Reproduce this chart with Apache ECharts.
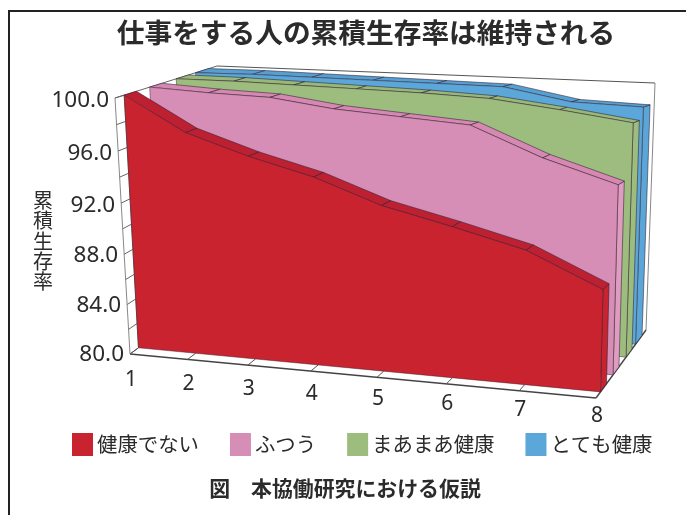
<!DOCTYPE html>
<html>
<head>
<meta charset="utf-8">
<style>html,body{margin:0;padding:0;background:#fff}#chart{width:686px;height:515px}</style>
<script src="https://cdn.jsdelivr.net/npm/echarts@6/dist/echarts.min.js"></script>
</head>
<body>
<div id="chart"></div>
<script>
// Cumulative survival rate by self-rated health, years 1-8
const years = ['1', '2', '3', '4', '5', '6', '7', '8'];
const yTicks = [80, 84, 88, 92, 96, 100];
const notHealthy = [100, 97.2, 95.5, 94.1, 92.2, 90.9, 89.5, 87.1];
const average = [100, 99.6, 99.3, 98.5, 98.0, 97.5, 95.3, 93.6];
const fairlyHealthy = [100, 99.9, 99.7, 99.5, 99.3, 99.0, 98.3, 97.5];
const veryHealthy = [100, 100, 99.9, 99.8, 99.7, 99.6, 98.6, 98.4];

const FONT = '"Noto Sans CJK JP", "Noto Sans", sans-serif';
const INK = '#2b2b2b';
const EDGE = 'rgba(45,30,50,0.8)';

// Box corners of the 3D view: the near wall and the far wall, each [LB, RB, RT, LT]
const NEAR = [[130, 354], [596, 398], [603, 95], [115, 98]];
const FAR = [[224, 285], [646, 330], [655, 83], [217, 66]];

function homography(q) {
  const [[x0, y0], [x1, y1], [x2, y2], [x3, y3]] = q;
  const sx = x0 - x1 + x2 - x3, sy = y0 - y1 + y2 - y3;
  const dx1 = x1 - x2, dx2 = x3 - x2, dy1 = y1 - y2, dy2 = y3 - y2;
  const den = dx1 * dy2 - dx2 * dy1;
  const g = (sx * dy2 - dx2 * sy) / den, h = (dx1 * sy - sx * dy1) / den;
  const a = x1 - x0 + g * x1, b = x3 - x0 + h * x3;
  const d = y1 - y0 + g * y1, e = y3 - y0 + h * y3;
  return (u, v) => {
    const w = g * u + h * v + 1;
    return [(a * u + b * v + x0) / w, (d * u + e * v + y0) / w];
  };
}
const nearWall = homography(NEAR);
const farWall = homography(FAR);

// Hidden grid spans the whole canvas, so its pixel coordinates normalise to 0..1
const W = 686, H = 515;
function project(api, xIndex, value, depth) {
  const c = api.coord([xIndex, value]);
  const u = c[0] / W, v = 1 - c[1] / H;
  const a = nearWall(u, v), b = farWall(u, v);
  return [a[0] + (b[0] - a[0]) * depth, a[1] + (b[1] - a[1]) * depth];
}

function polygon(points, fill, stroke, width) {
  return {
    type: 'polygon',
    shape: { points },
    style: { fill, stroke: stroke || fill, lineWidth: width || 0.7 }
  };
}

// One slab: end cap, top ribbon, then the front face
function slab(values, front, back, colors) {
  return function (params, api) {
    if (params.dataIndex !== 0) return null;
    const last = values.length - 1;
    const children = [];
    children.push(polygon([
      project(api, last, 80, front), project(api, last, 80, back),
      project(api, last, values[last], back), project(api, last, values[last], front)
    ], colors.cap, EDGE));
    for (let i = 0; i < last; i++) {
      children.push(polygon([
        project(api, i, values[i], front), project(api, i, values[i], back),
        project(api, i + 1, values[i + 1], back), project(api, i + 1, values[i + 1], front)
      ], colors.top, EDGE));
    }
    const face = [project(api, 0, 80, front)];
    values.forEach((v, i) => face.push(project(api, i, v, front)));
    face.push(project(api, last, 80, front));
    children.push(polygon(face, colors.face, 'rgba(60,30,45,0.6)', 0.8));
    return { type: 'group', children };
  };
}

function slabSeries(name, values, front, back, colors, z) {
  return {
    name,
    type: 'custom',
    coordinateSystem: 'cartesian2d',
    data: values.map((v, i) => [i, v]),
    encode: { x: 0, y: 1 },
    itemStyle: { color: colors.face },
    silent: true,
    clip: false,
    z,
    renderItem: slab(values, front, back, colors)
  };
}

// Box frame, ticks and tick labels, all placed through the same projection
function frame(params, api) {
  if (params.dataIndex !== 0) return null;
  const line = (a, b, w, col) => ({
    type: 'line',
    shape: { x1: a[0], y1: a[1], x2: b[0], y2: b[1] },
    style: { stroke: col || '#555', lineWidth: w || 1 }
  });
  const last = years.length - 1;
  const kids = [
    line(project(api, 0, 80, 0), project(api, 0, 100, 0), 1, '#888'),
    line(project(api, 0, 100, 0), project(api, 0, 100, 1), 1, '#666'),
    line(project(api, 0, 100, 1), project(api, last, 100, 1), 1.2, '#555'),
    line(project(api, last, 100, 1), project(api, last, 80, 1), 1, '#888'),
    line(project(api, last, 80, 1), project(api, last, 80, 0), 1.4, '#444'),
    line(project(api, 0, 80, 0), project(api, last, 80, 0), 1.4, '#444'),
    line(project(api, 0, 80, 0.09), project(api, 0, 100, 0.09), 1, '#777')
  ];
  for (let v = 80; v <= 100; v += 2) {
    kids.push(line(project(api, 0, v, 0), project(api, 0, v, 0.09), 1, '#666'));
  }
  years.forEach((label, i) => {
    const p = project(api, i, 80, 0);
    const q = project(api, i, 80, 0.09);
    kids.push(line(p, q, 1, '#555'));
    kids.push({
      type: 'text',
      style: {
        text: label, x: p[0] + 1, y: p[1] + 26 - 8 * i / last,
        font: '21px "Noto Sans", sans-serif', fill: INK,
        textAlign: 'center', textVerticalAlign: 'middle'
      }
    });
  });
  yTicks.forEach((t) => {
    const p = project(api, 0, t, 0);
    kids.push({
      type: 'text',
      style: {
        text: t.toFixed(1), x: p[0] - 6, y: p[1] + 1 + (t - 80) / 10,
        font: '22.5px "Noto Sans", sans-serif', fill: INK,
        textAlign: 'right', textVerticalAlign: 'middle'
      }
    });
  });
  return { type: 'group', children: kids };
}

const option = {
  animation: false,
  backgroundColor: '#fff',
  title: [
    {
      text: '仕事をする人の累積生存率は維持される',
      left: 361, top: 14, textAlign: 'center',
      textStyle: { fontFamily: FONT, fontSize: 27.7, fontWeight: 'bold', color: INK }
    },
    {
      text: '図　本協働研究における仮説',
      left: 340, top: 473, textAlign: 'center',
      textStyle: { fontFamily: FONT, fontSize: 20.9, fontWeight: 'bold', color: INK }
    }
  ],
  legend: {
    left: 72, top: 433, padding: 0,
    itemWidth: 21, itemHeight: 23, itemGap: 31,
    icon: 'rect',
    selectedMode: false,
    data: ['健康でない', 'ふつう', 'まあまあ健康', 'とても健康'],
    textStyle: { fontFamily: FONT, fontSize: 20.4, color: INK, padding: [0, 0, 0, -1] }
  },
  grid: { left: 0, top: 0, width: W, height: H, show: false },
  xAxis: { type: 'category', data: years, boundaryGap: false, show: false },
  yAxis: { type: 'value', min: 80, max: 100, interval: 4, show: false },
  graphic: [
    { type: 'rect', shape: { x: 8, y: 10, width: 2, height: 505 }, style: { fill: '#222' }, silent: true },
    { type: 'rect', shape: { x: 8, y: 10, width: 678, height: 2 }, style: { fill: '#222' }, silent: true },
    {
      type: 'text', left: 33, top: 190, silent: true,
      style: {
        text: '累\n積\n生\n存\n率',
        font: '20px ' + FONT, lineHeight: 20.4, fill: INK
      }
    }
  ],
  series: [
    {
      name: 'frame', type: 'custom', coordinateSystem: 'cartesian2d',
      data: years.map((y, i) => [i, 80]), encode: { x: 0, y: 1 },
      renderItem: frame, silent: true, clip: false, z: 1
    },
    slabSeries('とても健康', veryHealthy, 0.79, 0.92, { face: '#5ba7d9', top: '#55a0d2', cap: '#5aa6d8' }, 2),
    slabSeries('まあまあ健康', fairlyHealthy, 0.6, 0.72, { face: '#9dbd7e', top: '#98b878', cap: '#9dbd7e' }, 3),
    slabSeries('ふつう', average, 0.34, 0.46, { face: '#d68db6', top: '#d488b2', cap: '#dd9cc0' }, 4),
    slabSeries('健康でない', notHealthy, 0.09, 0.21, { face: '#c9232f', top: '#bd2030', cap: '#c9232f' }, 5)
  ]
};

echarts.init(document.getElementById('chart'), null, { renderer: 'canvas' }).setOption(option);
</script>
</body>
</html>
